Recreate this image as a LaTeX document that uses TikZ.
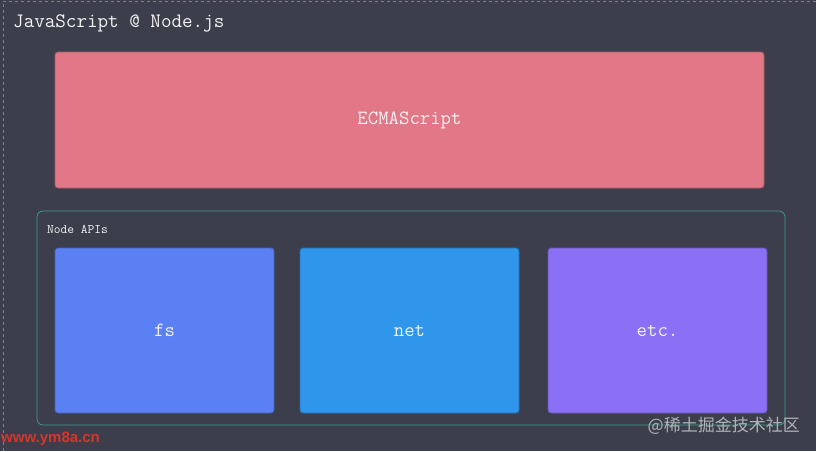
\documentclass[tikz,border=0pt]{standalone}
\usepackage{fontspec}
\newfontfamily\cjkfont{Noto Sans CJK SC}
\newfontfamily\markfont{Liberation Sans}

\definecolor{bgdark}{HTML}{3C3E4B}
\definecolor{ecmapink}{HTML}{E17787}
\definecolor{fsblue}{HTML}{5B80F4}
\definecolor{netblue}{HTML}{2F96EC}
\definecolor{etcviolet}{HTML}{8A70F4}
\definecolor{apiteal}{HTML}{3E9C8C}
\definecolor{framepink}{HTML}{8C7C88}
\definecolor{labelwhite}{HTML}{F2F2F2}
\definecolor{markred}{HTML}{D8342C}

\tikzset{
	apibox/.style={rounded corners=3pt, draw=#1!75!black, fill=#1, line width=0.8pt,
		text=labelwhite, font=\ttfamily\fontsize{20.2}{22}\selectfont,
		minimum width=219pt, minimum height=165pt, inner sep=0pt},
}

\begin{document}
\begin{tikzpicture}[x=1pt, y=-1pt]
	\useasboundingbox (0,0) rectangle (816,451);
	\clip (0,0) rectangle (816,451);
	\fill[bgdark] (0,0) rectangle (816,451);
	\draw[framepink, dashed, line width=0.8pt] (3,451) -- (3,1) -- (816,1);

	\node[anchor=base west, inner sep=0pt, text=labelwhite, font=\ttfamily\fontsize{20.5}{22}\selectfont] (title) at (13,27) {JavaScript @ Node.js};

	\node[apibox=ecmapink, minimum width=709pt, minimum height=136pt] (ecma) at (409.5,120) {ECMAScript};

	\draw[apiteal, rounded corners=6pt, line width=0.8pt] (37,211) rectangle (785,425);
	\node[anchor=base west, inner sep=0pt, text=labelwhite, font=\ttfamily\fontsize{13.1}{15}\selectfont] (apis) at (47,233) {Node APIs};

	\node[apibox=fsblue] (fs) at (164.5,330.5) {fs};
	\node[apibox=netblue] (net) at (409.5,330.5) {net};
	\node[apibox=etcviolet] (etc) at (657.5,330.5) {etc.};

	% watermarks
	\node[anchor=base east, inner sep=0pt, text=white!60!bgdark, font=\cjkfont\fontsize{17}{19}\selectfont] (mark) at (800,431) {@稀土掘金技术社区};
	\node[anchor=base west, inner sep=0pt, text=markred, font=\markfont\bfseries\fontsize{15}{17}\selectfont] (site) at (1,442) {www.ym8a.cn};
\end{tikzpicture}
\end{document}
